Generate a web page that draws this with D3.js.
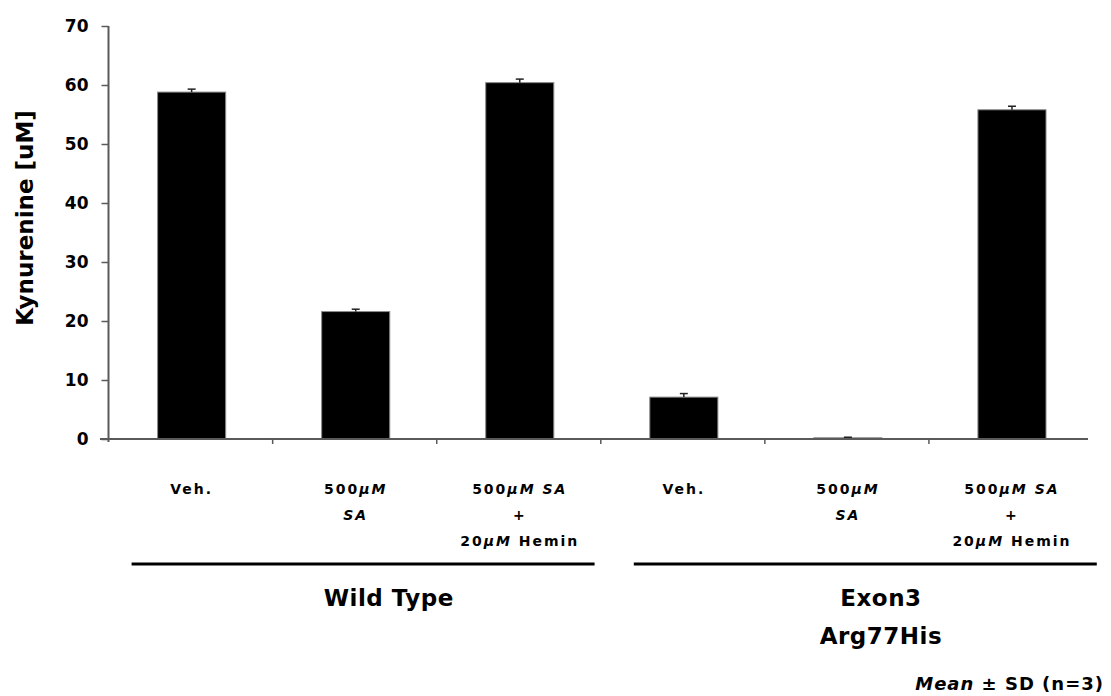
<!DOCTYPE html>
<html>
<head>
<meta charset="utf-8">
<script src="https://cdn.jsdelivr.net/npm/d3@7"></script>
<style>
  html, body { margin: 0; padding: 0; background: #fff; }
  svg { display: block; }
  text { font-family: "DejaVu Sans", Verdana, sans-serif; fill: #000; }
</style>
</head>
<body>
<svg id="chart" width="1111" height="696"></svg>
<script>
// Kynurenine production per treatment, two cell lines
const categories = ["wt-veh", "wt-sa", "wt-sa-hemin", "mut-veh", "mut-sa", "mut-sa-hemin"];
const categoryLabels = [
  ["Veh."],
  ["500µM", "SA"],
  ["500µM SA", "+", "20µM Hemin"],
  ["Veh."],
  ["500µM", "SA"],
  ["500µM SA", "+", "20µM Hemin"]
];
const means = [58.8, 21.6, 60.4, 7.1, 0.2, 55.8];
const sds = [0.5, 0.4, 0.6, 0.6, 0.1, 0.6];
const groups = ["Wild Type", "Exon3\nArg77His"];
const groupMembers = [[0, 1, 2], [3, 4, 5]];
const yTicks = [0, 10, 20, 30, 40, 50, 60, 70];
const yTitle = "Kynurenine [uM]";
const footnote = "Mean ± SD (n=3)";

const svg = d3.select("#chart");

const x = d3.scaleBand().domain(categories).range([108.6, 1093]).padding(0);
const y = d3.scaleLinear().domain([0, 70]).range([439, 26]);
const barW = x.bandwidth() * 0.415;
const axisColor = "#5a5a5a";

// Bars
svg.append("g").selectAll("rect")
  .data(categories)
  .join("rect")
  .attr("x", (d) => x(d) + x.bandwidth() / 2 - barW / 2 + 1)
  .attr("y", (d, i) => y(means[i]))
  .attr("width", barW)
  .attr("height", (d, i) => y(0) - y(means[i]))
  .attr("fill", "#000")
  .attr("stroke", "#8a8a8a")
  .attr("stroke-width", 1);

// Upper error bars (T shape)
const eb = svg.append("g").attr("stroke", "#222").attr("stroke-width", 1.5);
categories.forEach((c, i) => {
  const cx = x(c) + x.bandwidth() / 2 + 1;
  eb.append("line").attr("x1", cx).attr("x2", cx)
    .attr("y1", y(means[i])).attr("y2", y(means[i] + sds[i]));
  eb.append("line").attr("x1", cx - 4).attr("x2", cx + 4)
    .attr("y1", y(means[i] + sds[i])).attr("y2", y(means[i] + sds[i]));
});

// Y axis
const yAxis = d3.axisLeft(y).tickValues(yTicks).tickSize(7).tickSizeOuter(0).tickPadding(13);
const gy = svg.append("g").attr("transform", "translate(108.5,0)").call(yAxis);
gy.select(".domain").attr("stroke", axisColor).attr("stroke-width", 2)
  .attr("d", `M0,${y(70)}V${y(0) + 3}`);
gy.selectAll(".tick line").attr("stroke", axisColor).attr("stroke-width", 1.5);
gy.selectAll(".tick text")
  .style("font-family", "'DejaVu Sans', Verdana, sans-serif")
  .style("font-weight", "bold").style("font-size", "17px").attr("fill", "#000");

// X axis: baseline with ticks at category boundaries
const gx = svg.append("g");
gx.append("line").attr("x1", 100).attr("x2", 1088)
  .attr("y1", y(0)).attr("y2", y(0))
  .attr("stroke", axisColor).attr("stroke-width", 2);
categories.slice(1).forEach((c) => {
  gx.append("line").attr("x1", x(c)).attr("x2", x(c))
    .attr("y1", y(0)).attr("y2", y(0) + 5)
    .attr("stroke", axisColor).attr("stroke-width", 1.5);
});

// Y axis title
svg.append("text")
  .attr("transform", `translate(33,${218}) rotate(-90)`)
  .attr("text-anchor", "middle")
  .style("font-weight", "bold").style("font-size", "23px")
  .text(yTitle);

// Category labels
const catG = svg.append("g");
categories.forEach((c, i) => {
  const cx = x(c) + x.bandwidth() / 2 + 1;
  categoryLabels[i].forEach((line, j) => {
    const t = catG.append("text")
      .attr("x", cx).attr("y", 494 + j * 26)
      .attr("text-anchor", "middle")
      .style("font-weight", "bold").style("font-size", "14px")
      .style("letter-spacing", "2px");
    // unit and agent names are set in italic
    const parts = line.split(/(µM|SA)/).filter((p) => p.length);
    parts.forEach((p) => {
      t.append("tspan").style("font-style", (p === "µM" || p === "SA") ? "italic" : "normal").text(p);
    });
  });
});

// Group brackets and names
groupMembers.forEach((m, gi) => {
  const first = categories[m[0]], last = categories[m[m.length - 1]];
  const x0 = x(first) + 23 + gi * 10, x1 = x0 + 463;
  svg.append("line").attr("x1", x0).attr("x2", x1)
    .attr("y1", 564).attr("y2", 564)
    .attr("stroke", "#000").attr("stroke-width", 3);
  const lines = groups[gi].split("\n");
  const cx = (x(first) + x(last) + x.bandwidth()) / 2 + 34;
  lines.forEach((ln, j) => {
    svg.append("text")
      .attr("x", cx).attr("y", 606 + j * 38)
      .attr("text-anchor", "middle")
      .style("font-weight", "bold").style("font-size", "23px")
      .style("letter-spacing", "0.5px")
      .text(ln);
  });
});

// Footnote
const fn = svg.append("text")
  .attr("x", 1104).attr("y", 690)
  .attr("text-anchor", "end")
  .style("font-weight", "bold").style("font-size", "18px")
  .style("letter-spacing", "1px");
fn.append("tspan").style("font-style", "italic").text("Mean ");
fn.append("tspan").text(footnote.replace("Mean ", ""));
</script>
</body>
</html>
